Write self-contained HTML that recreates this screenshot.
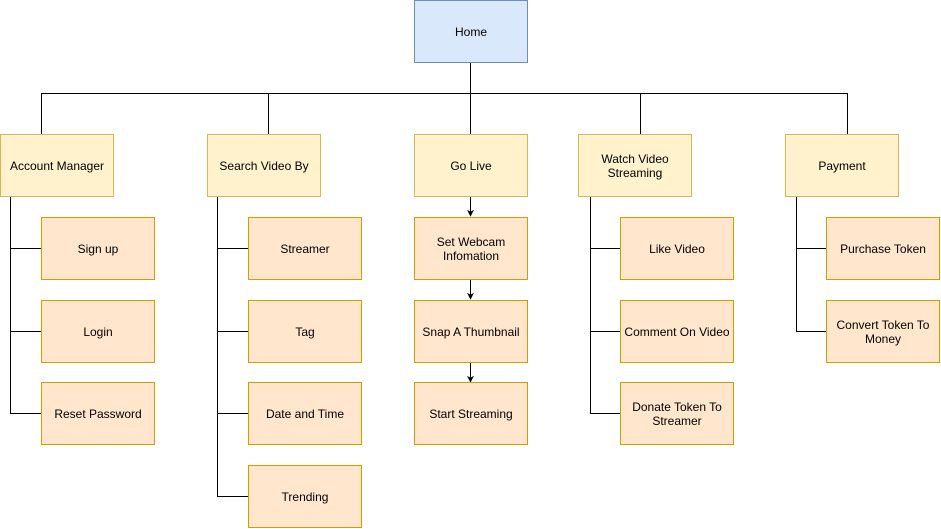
<!DOCTYPE html>
<html><head><style>body{margin:0;background:#fff}svg{display:block}text{font-family:"Liberation Sans",Arial,sans-serif;font-size:12px;fill:#000;text-anchor:middle}</style></head><body>
<svg width="941" height="529" viewBox="0 0 941 529" xmlns="http://www.w3.org/2000/svg">
<defs><marker id="a" viewBox="0 0 10 10" refX="9" refY="5" markerWidth="7" markerHeight="7" orient="auto"><path d="M0,0L10,5L0,10L3,5z" fill="#000"/></marker></defs>
<g stroke="#000" stroke-width="1" fill="none">
<path d="M470.5,62V134M41.5,134V93.5H847.5V134M268.5,93.5V134M640.5,93.5V134"/>
<path d="M10.5,196V413.5H41M10.5,248.5H41M10.5,331.5H41"/>
<path d="M217.5,196V496.5H248M217.5,248.5H248M217.5,331.5H248M217.5,413.5H248"/>
<path d="M590.5,196V413.5H620M590.5,248.5H620M590.5,331.5H620"/>
<path d="M796.5,196V331.5H826M796.5,248.5H826"/>
<path d="M470.5,196V216" marker-end="url(#a)"/>
<path d="M470.5,279V299" marker-end="url(#a)"/>
<path d="M470.5,362V382" marker-end="url(#a)"/>
</g>
<g stroke-width="1">
<rect x="414.5" y="0.5" width="113" height="62" fill="#dae8fc" stroke="#6c8ebf"/>
<g fill="#fff2cc" stroke="#d6b656">
<rect x="0.5" y="134.5" width="113" height="62"/><rect x="207.5" y="134.5" width="113" height="62"/><rect x="414.5" y="134.5" width="113" height="62"/><rect x="578.5" y="134.5" width="113" height="62"/><rect x="785.5" y="134.5" width="113" height="62"/>
</g>
<g fill="#ffe6cc" stroke="#d79b00">
<rect x="41.5" y="217.5" width="113" height="62"/><rect x="41.5" y="300.5" width="113" height="62"/><rect x="41.5" y="382.5" width="113" height="62"/>
<rect x="248.5" y="217.5" width="113" height="62"/><rect x="248.5" y="300.5" width="113" height="62"/><rect x="248.5" y="382.5" width="113" height="62"/><rect x="248.5" y="465.5" width="113" height="62"/>
<rect x="414.5" y="217.5" width="113" height="62"/><rect x="414.5" y="300.5" width="113" height="62"/><rect x="414.5" y="382.5" width="113" height="62"/>
<rect x="620.5" y="217.5" width="113" height="62"/><rect x="620.5" y="300.5" width="113" height="62"/><rect x="620.5" y="382.5" width="113" height="62"/>
<rect x="826.5" y="217.5" width="113" height="62"/><rect x="826.5" y="300.5" width="113" height="62"/>
</g></g>
<text x="471" y="36">Home</text>
<text x="57" y="170">Account Manager</text>
<text x="264" y="170">Search Video By</text>
<text x="471" y="170">Go Live</text>
<text x="635" y="163">Watch Video</text><text x="635" y="177">Streaming</text>
<text x="842" y="170">Payment</text>
<text x="98" y="253">Sign up</text><text x="98" y="336">Login</text><text x="98" y="418">Reset Password</text>
<text x="305" y="253">Streamer</text><text x="305" y="336">Tag</text><text x="305" y="418">Date and Time</text><text x="305" y="501">Trending</text>
<text x="471" y="246">Set Webcam</text><text x="471" y="260">Infomation</text>
<text x="471" y="336">Snap A Thumbnail</text><text x="471" y="418">Start Streaming</text>
<text x="677" y="253">Like Video</text><text x="677" y="336">Comment On Video</text>
<text x="677" y="411">Donate Token To</text><text x="677" y="425">Streamer</text>
<text x="883" y="253">Purchase Token</text>
<text x="883" y="329">Convert Token To</text><text x="883" y="343">Money</text>
</svg>
</body></html>
